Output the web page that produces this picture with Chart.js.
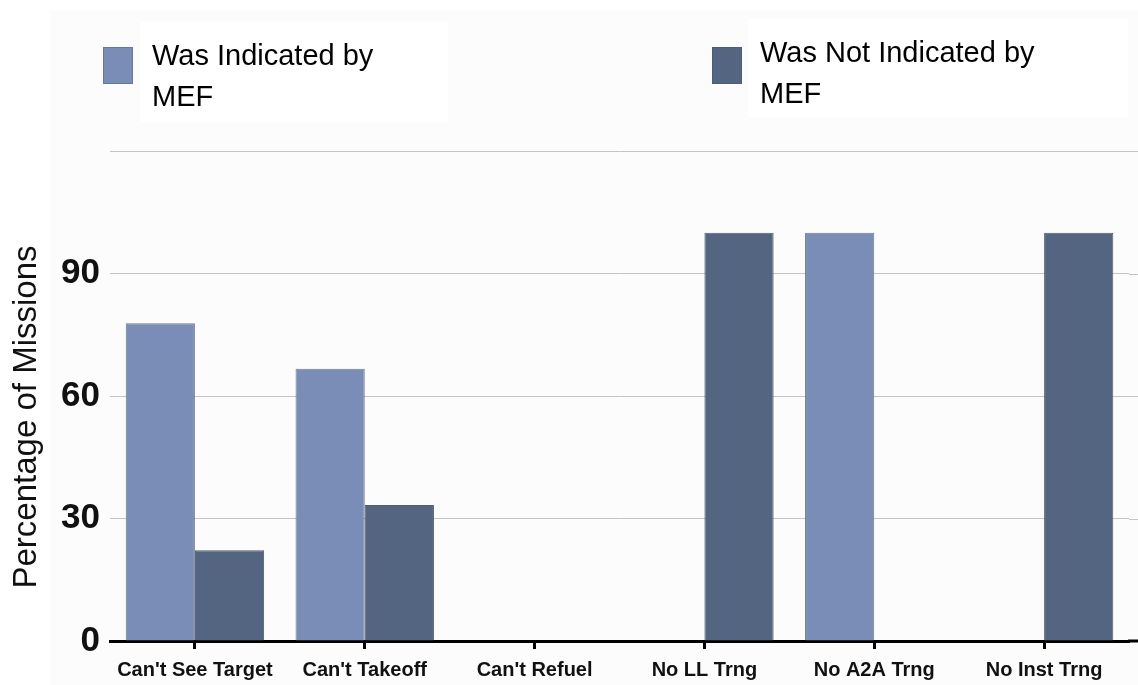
<!DOCTYPE html>
<html>
<head>
<meta charset="utf-8">
<title>Percentage of Missions</title>
<script src="https://cdn.jsdelivr.net/npm/chart.js@4/dist/chart.umd.min.js"></script>
<style>
  html, body { margin: 0; padding: 0; background: #ffffff; }
  #wrap { width: 1138px; height: 685px; position: relative; }
  canvas { display: block; }
</style>
</head>
<body>
<div id="wrap"><canvas id="chart" width="1138" height="685"></canvas></div>
<script>
// Categories and series values (percent of missions)
const categories = ["Can't See Target", "Can't Takeoff", "Can't Refuel", "No LL Trng", "No A2A Trng", "No Inst Trng"];
const indicatedByMef = [77.8, 66.7, 0, 0, 100, 0];
const notIndicatedByMef = [22.2, 33.3, 0, 100, 0, 100];
const seriesLabels = [["Was Indicated by", "MEF"], ["Was Not Indicated by", "MEF"]];
const yTickValues = [0, 30, 60, 90, 120];
const yLabeledTicks = [0, 30, 60, 90];
const yAxisTitle = "Percentage of Missions";

const FONT = "'Liberation Sans', Arial, Helvetica, sans-serif";
const LIGHT = "#7a8db6";
const DARK = "#536580";

// Paper background: very faint grey field with white panels behind legend text
const backgroundPlugin = {
  id: 'paper',
  beforeDraw(chart) {
    const ctx = chart.ctx;
    ctx.save();
    ctx.fillStyle = '#ffffff';
    ctx.fillRect(0, 0, chart.width, chart.height);
    ctx.fillStyle = '#fcfcfc';
    ctx.fillRect(50, 10, chart.width - 50, chart.height - 10);
    ctx.fillStyle = '#ffffff';
    ctx.fillRect(140, 22, 308, 100);
    ctx.fillRect(748, 18, 380, 100);
    ctx.restore();
  }
};

// Two-line legend entries above the plot
const legendPlugin = {
  id: 'twoLineLegend',
  afterDraw(chart) {
    const ctx = chart.ctx;
    const spots = [
      { sx: 103, sy: 47, tx: 152, base: 65 },
      { sx: 712, sy: 47, tx: 760, base: 62 }
    ];
    ctx.save();
    chart.data.datasets.forEach((ds, i) => {
      const s = spots[i];
      ctx.fillStyle = ds.backgroundColor;
      ctx.fillRect(s.sx, s.sy, 30, 37);
      ctx.strokeStyle = 'rgba(70,80,100,0.35)';
      ctx.lineWidth = 1;
      ctx.strokeRect(s.sx + 0.5, s.sy + 0.5, 29, 36);
      ctx.fillStyle = '#000000';
      ctx.font = `29px ${FONT}`;
      ctx.textAlign = 'left';
      ctx.textBaseline = 'alphabetic';
      ds.legendLines.forEach((line, j) => {
        ctx.fillText(line, s.tx, s.base + j * 41);
      });
    });
    ctx.restore();
  }
};

// Rotated y-axis title and right-hand extension of the gridlines and baseline
const axisDecorPlugin = {
  id: 'axisDecor',
  afterDraw(chart) {
    const ctx = chart.ctx;
    const area = chart.chartArea;
    const y = chart.scales.y;
    ctx.save();
    ctx.strokeStyle = '#c4c4c4';
    ctx.lineWidth = 1;
    yTickValues.slice(1).forEach(v => {
      const py = Math.round(y.getPixelForValue(v)) + 0.5;
      ctx.beginPath();
      ctx.moveTo(area.right, py);
      ctx.lineTo(chart.width, py);
      ctx.stroke();
    });
    const py0 = y.getPixelForValue(0);
    ctx.strokeStyle = '#000000';
    ctx.lineWidth = 3;
    ctx.beginPath();
    ctx.moveTo(area.right - 1, py0);
    ctx.lineTo(chart.width, py0);
    ctx.stroke();

    ctx.translate(27, 417);
    ctx.rotate(-Math.PI / 2);
    ctx.fillStyle = '#111111';
    ctx.font = `33px ${FONT}`;
    ctx.textAlign = 'center';
    ctx.textBaseline = 'middle';
    ctx.fillText(yAxisTitle, 0, 0);
    ctx.restore();
  }
};

new Chart(document.getElementById('chart'), {
  type: 'bar',
  data: {
    labels: categories,
    datasets: [
      {
        label: seriesLabels[0].join(' '),
        legendLines: seriesLabels[0],
        data: indicatedByMef,
        backgroundColor: LIGHT,
        borderColor: 'rgba(70,80,105,0.75)',
        borderWidth: 1
      },
      {
        label: seriesLabels[1].join(' '),
        legendLines: seriesLabels[1],
        data: notIndicatedByMef,
        backgroundColor: DARK,
        borderColor: 'rgba(45,55,72,0.8)',
        borderWidth: 1
      }
    ]
  },
  options: {
    responsive: false,
    animation: false,
    events: [],
    layout: { padding: { top: 151, right: 9, left: 0, bottom: 0 } },
    datasets: {
      bar: { categoryPercentage: 0.815, barPercentage: 1.0 }
    },
    plugins: {
      legend: { display: false },
      tooltip: { enabled: false },
      title: { display: false }
    },
    scales: {
      x: {
        afterFit(scale) { scale.height = 44; },
        grid: {
          display: true,
          drawOnChartArea: false,
          drawTicks: true,
          tickLength: 8,
          tickWidth: 3,
          tickColor: '#000000',
          offset: false
        },
        border: { display: true, color: '#000000', width: 3 },
        ticks: {
          color: '#111111',
          font: { family: FONT, size: 20, weight: 'bold' },
          padding: 9,
          maxRotation: 0,
          autoSkip: false
        }
      },
      y: {
        min: 0,
        max: 120,
        afterFit(scale) { scale.width = 110; },
        afterBuildTicks(scale) {
          scale.ticks = yTickValues.map(v => ({ value: v }));
        },
        grid: {
          color: '#c4c4c4',
          lineWidth: 1,
          drawTicks: false
        },
        border: { display: false },
        ticks: {
          color: '#111111',
          font: { family: FONT, size: 35, weight: 'bold' },
          padding: 10,
          callback(value) {
            return yLabeledTicks.includes(value) ? String(value) : '';
          }
        }
      }
    }
  },
  plugins: [backgroundPlugin, legendPlugin, axisDecorPlugin]
});
</script>
</body>
</html>
